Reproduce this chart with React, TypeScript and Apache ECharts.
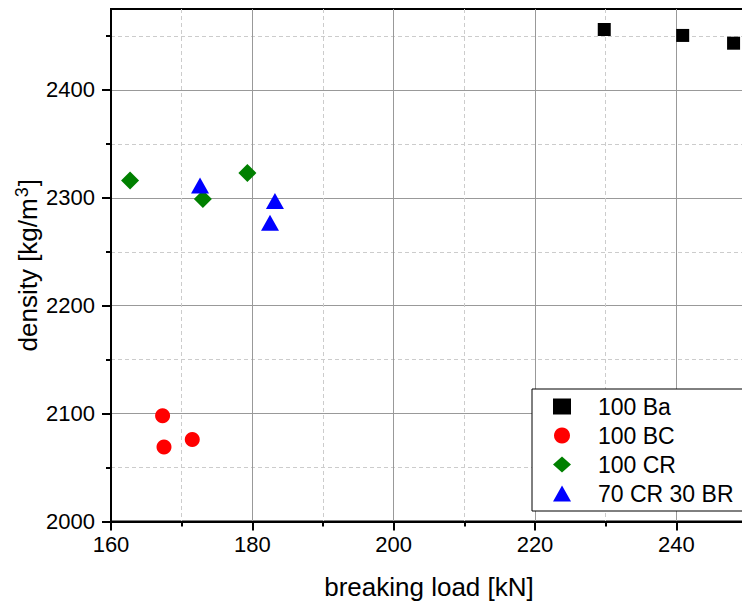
import React, { useEffect, useRef } from "react";
import * as echarts from "echarts";

const FONT = "'Liberation Sans', Arial, sans-serif";

const seriesNames = ["100 Ba", "100 BC", "100 CR", "70 CR 30 BR"];
const ba = [[229.8, 2456], [240.9, 2450.5], [248.1, 2443.3]];
const bc = [[167.3, 2098], [167.5, 2069], [171.5, 2076]];
const cr = [[162.7, 2316], [173.0, 2299], [179.3, 2323]];
const crbr = [[172.6, 2311.5], [183.2, 2297], [182.5, 2277]];

const xMajor = [160, 180, 200, 220, 240];
const xMinor = [170, 190, 210, 230, 250];
const yMajor = [2000, 2100, 2200, 2300, 2400];
const yMinor = [2050, 2150, 2250, 2350, 2450];

export default function App() {
  const ref = useRef<HTMLDivElement>(null);
  useEffect(() => {
    if (!ref.current) return;
    const chart = echarts.init(ref.current, null, { renderer: "svg" });
    const major = (vals: number[], margin: number) => ({
      axisLine: { show: true, onZero: false, lineStyle: { color: "#000", width: 2 } },
      axisTick: { show: true, length: 9, customValues: vals, lineStyle: { color: "#000", width: 2 } },
      axisLabel: {
        show: true, customValues: vals, fontSize: 22, color: "#000", fontFamily: FONT, margin,
        formatter: (v: number) => String(v),
      },
      splitLine: { show: true, lineStyle: { color: "#999", width: 1 } },
    });
    const minor = (vals: number[]) => ({
      axisLine: { show: false },
      axisTick: { show: true, length: 5, customValues: vals, lineStyle: { color: "#000", width: 2 } },
      axisLabel: { show: false },
      splitLine: { show: true, lineStyle: { color: "#ccc", width: 1, type: [4, 3] } },
    });
    const option: any = {
      animation: false,
      backgroundColor: "#fff",
      grid: {
        left: 111, top: 9, right: -5, bottom: 82.5,
        show: true, borderColor: "#000", borderWidth: 2,
        containLabel: false, outerBoundsMode: "none",
      },
      xAxis: [
        { type: "value", min: 160, max: 250, position: "bottom", ...minor(xMinor) },
        {
          type: "value", min: 160, max: 250, position: "bottom",
          ...major(xMajor, 12),
          name: "breaking load [kN]", nameLocation: "middle", nameGap: 52,
          nameMoveOverlap: false,
          nameTextStyle: { fontSize: 26, color: "#000", fontFamily: FONT },
        },
      ],
      yAxis: [
        { type: "value", min: 2000, max: 2475, position: "left", ...minor(yMinor) },
        {
          type: "value", min: 2000, max: 2475, position: "left",
          ...major(yMajor, 16),
          name: "density [kg/m{sup|3}]", nameLocation: "middle", nameGap: 68,
          nameMoveOverlap: false,
          nameTextStyle: {
            fontSize: 26, color: "#000", fontFamily: FONT,
            rich: {
              sup: { fontSize: 18, color: "#000", fontFamily: FONT, padding: [0, 1, 12, 1] },
            },
          },
        },
      ],
      legend: {
        orient: "vertical",
        left: 532, top: 389,
        padding: [6, 40, 6, 21],
        itemGap: 6,
        itemWidth: 18, itemHeight: 16,
        borderColor: "#000", borderWidth: 1, borderRadius: 0,
        backgroundColor: "#fff",
        textStyle: { fontSize: 23, color: "#000", fontFamily: FONT, padding: [0, 0, 0, 22] },
        data: seriesNames,
      },
      series: [
        { name: seriesNames[0], type: "scatter", xAxisIndex: 1, yAxisIndex: 1, symbol: "rect", symbolSize: 13, itemStyle: { color: "#000", opacity: 1 }, data: ba },
        { name: seriesNames[1], type: "scatter", xAxisIndex: 1, yAxisIndex: 1, symbol: "circle", symbolSize: 15, itemStyle: { color: "#ff0000", opacity: 1 }, data: bc },
        { name: seriesNames[2], type: "scatter", xAxisIndex: 1, yAxisIndex: 1, symbol: "diamond", symbolSize: 18, itemStyle: { color: "#008000", opacity: 1 }, data: cr },
        { name: seriesNames[3], type: "scatter", xAxisIndex: 1, yAxisIndex: 1, symbol: "triangle", symbolSize: [18, 16], itemStyle: { color: "#0000ff", opacity: 1 }, data: crbr },
      ],
    };
    chart.setOption(option);
    return () => chart.dispose();
  }, []);
  return (
    <div
      ref={ref}
      style={{ position: "fixed", left: 0, top: 0, width: 742, height: 604, overflow: "hidden" }}
    />
  );
}
